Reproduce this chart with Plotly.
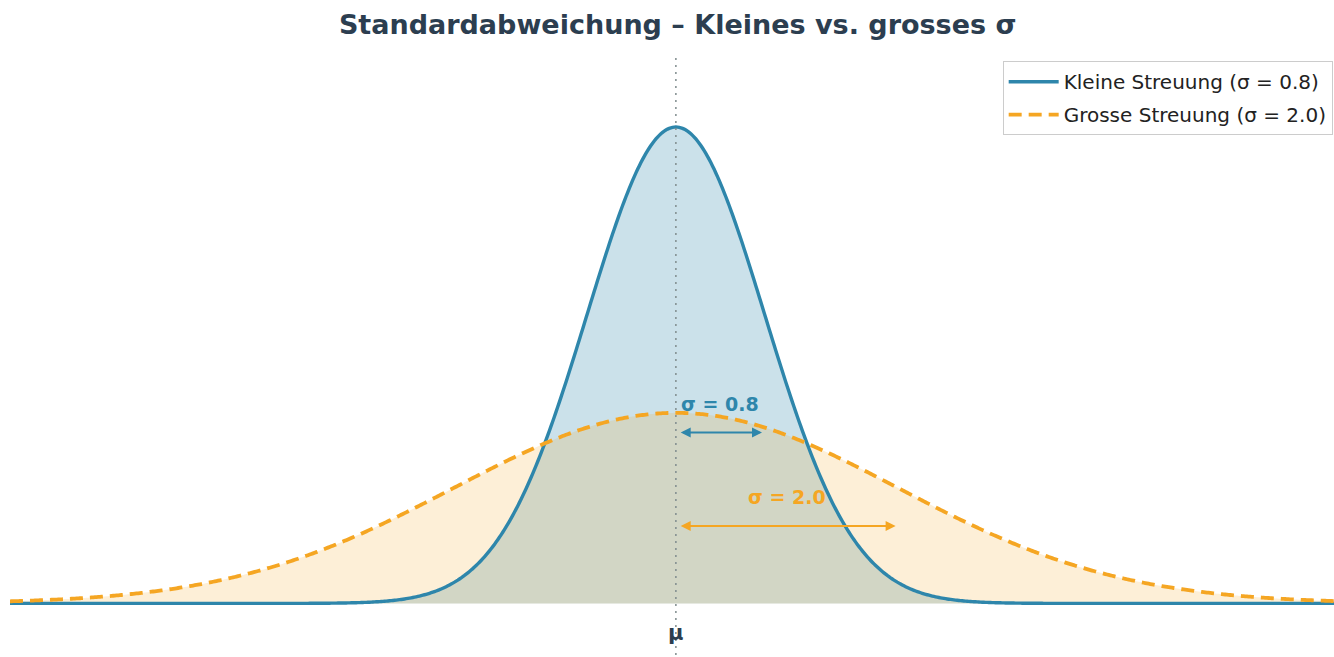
import numpy as np
import plotly.graph_objects as go

# --- data (parameters) ---
mu = 0.0
sigma_small = 0.8
sigma_large = 2.0
series_names = ["Kleine Streuung (σ = 0.8)", "Grosse Streuung (σ = 2.0)"]
x_min, x_max = -6.0, 6.0
arrow_levels = [0.179, 0.081]      # y where the σ arrows sit
label_levels = [0.209, 0.111]      # y of the σ labels

BLUE = "#2E86AB"
ORANGE = "#F5A623"
TITLE_C = "#2C3E50"
FONT = "DejaVu Sans"

x = np.linspace(x_min, x_max, 801)


def pdf(xv, m, s):
    return np.exp(-0.5 * ((xv - m) / s) ** 2) / (s * np.sqrt(2 * np.pi))


y_small = pdf(x, mu, sigma_small)
y_large = pdf(x, mu, sigma_large)

fig = go.Figure()
# fills (no legend)
fig.add_trace(go.Scatter(
    x=x, y=y_small, mode="lines", showlegend=False, hoverinfo="skip",
    line=dict(width=0, simplify=False), fill="tozeroy",
    fillcolor="rgba(46,134,171,0.25)"))
fig.add_trace(go.Scatter(
    x=x, y=y_large, mode="lines", showlegend=False, hoverinfo="skip",
    line=dict(width=0, simplify=False), fill="tozeroy",
    fillcolor="rgba(245,166,35,0.18)"))
# lines
fig.add_trace(go.Scatter(
    x=x, y=y_small, mode="lines", name=series_names[0], legendgroup="a",
    line=dict(color=BLUE, width=3.4, simplify=False)))
fig.add_trace(go.Scatter(
    x=x, y=y_large, mode="lines", name=series_names[1], legendgroup="b",
    line=dict(color=ORANGE, width=3.8, dash="13px,7px", simplify=False)))

# mean line
fig.add_shape(type="line", xref="x", yref="paper", x0=mu, x1=mu, y0=0, y1=1,
              line=dict(color="#7F8C8D", width=1.5, dash="2px,5px"), layer="above")

annotations = []
for s, c, ya, yl, xl, anc, k in [
    (sigma_small, BLUE, arrow_levels[0], label_levels[0], mu + 0.03, "left", 0.97),
    (sigma_large, ORANGE, arrow_levels[1], label_levels[1], mu + sigma_large / 2, "center", 0.99),
]:
    annotations.append(dict(
        x=mu + s * k, y=ya, ax=mu + 0.03, ay=ya, xref="x", yref="y",
        axref="x", ayref="y", text="", showarrow=True, arrowhead=2,
        arrowside="end+start", arrowsize=1, arrowwidth=2, arrowcolor=c))
    annotations.append(dict(
        x=xl, y=yl, xref="x", yref="y", text=f"<b>σ = {s:.1f}</b>",
        showarrow=False, xanchor=anc, yanchor="middle",
        font=dict(family=FONT, size=19, color=c)))

annotations.append(dict(
    x=mu, y=-0.031, xref="x", yref="y", text="<b>μ</b>", showarrow=False,
    xanchor="center", yanchor="middle",
    font=dict(family=FONT, size=21, color=TITLE_C)))

fig.update_layout(
    width=1334, height=657,
    margin=dict(l=10, r=0, t=57, b=2),
    paper_bgcolor="white", plot_bgcolor="white",
    title=dict(text="Standardabweichung – Kleines vs. grosses σ",
               x=0.508, xanchor="center", y=0.962, yanchor="middle",
               font=dict(family=FONT, size=27, color=TITLE_C, weight="bold")),
    xaxis=dict(range=[x_min, 5.93], visible=False, showgrid=False, zeroline=False),
    yaxis=dict(range=[-0.054, 0.572], visible=False, showgrid=False, zeroline=False),
    showlegend=True,
    legend=dict(x=0.999, y=0.993, xanchor="right", yanchor="top",
                bgcolor="rgba(255,255,255,0.9)", bordercolor="#CCCCCC", borderwidth=1,
                font=dict(family=FONT, size=20, color="#222222"),
                itemwidth=50, tracegroupgap=4),
    annotations=annotations,
    font=dict(family=FONT),
)

fig.write_html("out.html", config={"displayModeBar": False},
               post_script="document.body.style.margin='0';document.body.style.overflow='hidden';")
